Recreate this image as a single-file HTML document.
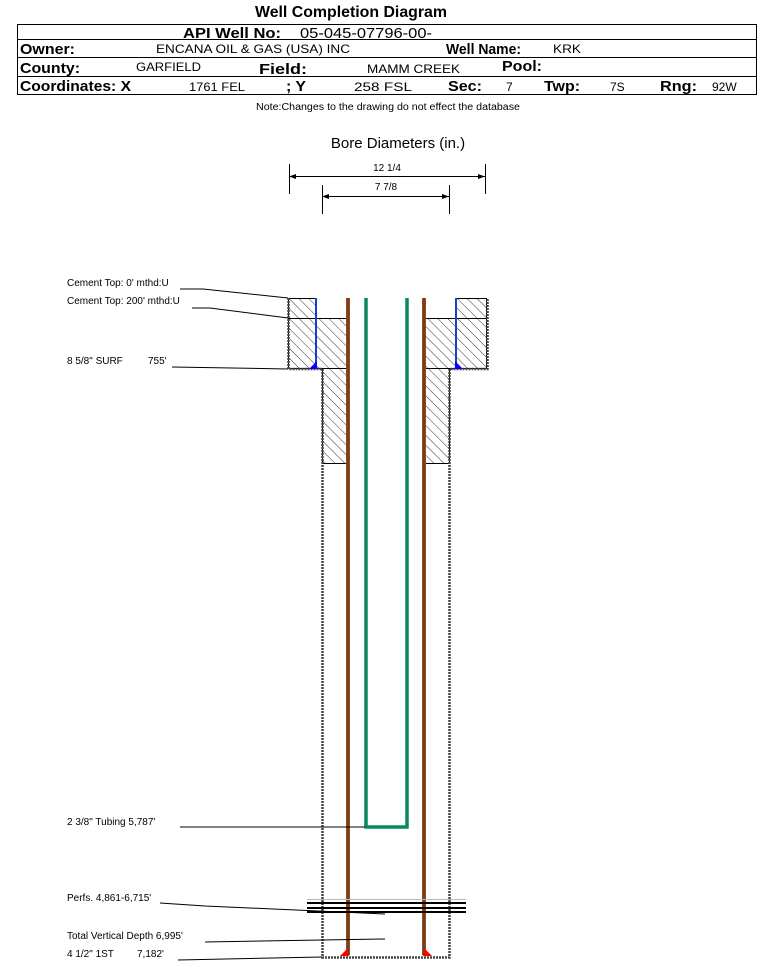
<!DOCTYPE html>
<html><head><meta charset="utf-8"><style>
body{margin:0;background:#fff;}
svg{display:block;font-family:"Liberation Sans",Arial,sans-serif;}
</style></head><body>
<svg width="759" height="962" viewBox="0 0 759 962" xmlns="http://www.w3.org/2000/svg">
<defs>
<pattern id="h" patternUnits="userSpaceOnUse" width="7" height="7" patternTransform="rotate(-45)">
<rect width="7" height="7" fill="#fff"/><line x1="0" y1="0" x2="0" y2="7" stroke="#000" stroke-width="0.8"/>
</pattern>
</defs>
<text x="255" y="17" font-size="16" font-weight="bold" textLength="192" lengthAdjust="spacingAndGlyphs">Well Completion Diagram</text>
<g stroke="#000" stroke-width="1" fill="none">
<rect x="17.5" y="24.5" width="739" height="70"/>
<line x1="17" y1="39.5" x2="757" y2="39.5"/>
<line x1="17" y1="57.5" x2="757" y2="57.5"/>
<line x1="17" y1="76.5" x2="757" y2="76.5"/>
</g>
<g font-size="15" font-weight="bold">
<text x="183" y="38" textLength="98" lengthAdjust="spacingAndGlyphs">API Well No:</text>
<text x="20" y="54" textLength="55" lengthAdjust="spacingAndGlyphs">Owner:</text>
<text x="446" y="54" textLength="75" lengthAdjust="spacingAndGlyphs">Well Name:</text>
<text x="20" y="73" textLength="60" lengthAdjust="spacingAndGlyphs">County:</text>
<text x="259" y="74" textLength="48" lengthAdjust="spacingAndGlyphs">Field:</text>
<text x="502" y="71" textLength="40" lengthAdjust="spacingAndGlyphs">Pool:</text>
<text x="20" y="91" textLength="111" lengthAdjust="spacingAndGlyphs">Coordinates: X</text>
<text x="286" y="91" textLength="20" lengthAdjust="spacingAndGlyphs">; Y</text>
<text x="448" y="91" textLength="34" lengthAdjust="spacingAndGlyphs">Sec:</text>
<text x="544" y="91" textLength="36" lengthAdjust="spacingAndGlyphs">Twp:</text>
<text x="660" y="91" textLength="37" lengthAdjust="spacingAndGlyphs">Rng:</text>
</g>
<g font-size="12">
<text x="300" y="38" font-size="15" textLength="132" lengthAdjust="spacingAndGlyphs">05-045-07796-00-</text>
<text x="156" y="53" textLength="194" lengthAdjust="spacingAndGlyphs">ENCANA OIL &amp; GAS (USA) INC</text>
<text x="553" y="53" textLength="28" lengthAdjust="spacingAndGlyphs">KRK</text>
<text x="136" y="71" textLength="65" lengthAdjust="spacingAndGlyphs">GARFIELD</text>
<text x="367" y="73" textLength="93" lengthAdjust="spacingAndGlyphs">MAMM CREEK</text>
<text x="189" y="91" textLength="56" lengthAdjust="spacingAndGlyphs">1761 FEL</text>
<text x="354" y="91" textLength="58" lengthAdjust="spacingAndGlyphs">258 FSL</text>
<text x="506" y="91">7</text>
<text x="610" y="91">7S</text>
<text x="712" y="91">92W</text>
</g>
<text x="256" y="110" font-size="10" textLength="264" lengthAdjust="spacingAndGlyphs">Note:Changes to the drawing do not effect the database</text>
<text x="398" y="148" font-size="15" text-anchor="middle">Bore Diameters (in.)</text>
<g stroke="#000" stroke-width="1">
<line x1="289.5" y1="164" x2="289.5" y2="194"/><line x1="485.5" y1="164" x2="485.5" y2="194"/>
<line x1="289" y1="176.5" x2="485" y2="176.5"/>
<line x1="322.5" y1="185" x2="322.5" y2="214"/><line x1="449.5" y1="185" x2="449.5" y2="214"/>
<line x1="322" y1="196.5" x2="449" y2="196.5"/>
</g>
<g fill="#000"><polygon points="289,176.5 296,174 296,179"/><polygon points="485,176.5 478,174 478,179"/>
<polygon points="322,196.5 329,194 329,199"/><polygon points="449,196.5 442,194 442,199"/></g>
<text x="387" y="171" font-size="10" text-anchor="middle">12 1/4</text>
<text x="386" y="190" font-size="10" text-anchor="middle">7 7/8</text>
<g fill="url(#h)" stroke="#000" stroke-width="1">
<rect x="288.5" y="298.5" width="28" height="70"/>
<rect x="316.5" y="318.5" width="31" height="50"/>
<rect x="322.5" y="368.5" width="25" height="95"/>
<rect x="456.5" y="298.5" width="30" height="70"/>
<rect x="424.5" y="318.5" width="32" height="50"/>
<rect x="424.5" y="368.5" width="25" height="95"/>
</g>
<line x1="288" y1="318.5" x2="316" y2="318.5" stroke="#000"/>
<line x1="456" y1="318.5" x2="487" y2="318.5" stroke="#000"/>
<path d="M288.5,298 V369 H322.5 V957.5 H449.5 V369 H487.5 V298" fill="none" stroke="#444" stroke-width="2.5" stroke-dasharray="2,1"/>
<line x1="316" y1="298" x2="316" y2="369" stroke="#1a3cd0" stroke-width="2"/>
<line x1="456" y1="298" x2="456" y2="369" stroke="#1a3cd0" stroke-width="2"/>
<polygon points="309,369 317,369 317,361" fill="#0000ff"/>
<polygon points="455,369 463,369 455,361" fill="#0000ff"/>
<g stroke-width="4"><line x1="348" y1="298" x2="348" y2="955" stroke="#0a8a3a"/><line x1="424" y1="298" x2="424" y2="955" stroke="#0a8a3a"/></g>
<g stroke-width="2"><line x1="348" y1="298" x2="348" y2="955" stroke="#ff0000"/><line x1="424" y1="298" x2="424" y2="955" stroke="#ff0000"/></g>
<polygon points="340,956 349,956 349,947" fill="#ff0000"/>
<polygon points="423,956 432,956 423,947" fill="#ff0000"/>
<path d="M366,298 V827 H407 V298" fill="none" stroke="#0a8a5a" stroke-width="3.5"/>
<g stroke="#000" stroke-width="2"><line x1="307" y1="903" x2="466" y2="903"/><line x1="307" y1="908" x2="466" y2="908"/><line x1="307" y1="912" x2="466" y2="912"/></g>
<line x1="307" y1="899.5" x2="466" y2="899.5" stroke="#bbb"/>
<g font-size="10">
<text x="67" y="286">Cement Top: 0' mthd:U</text>
<text x="67" y="304">Cement Top: 200' mthd:U</text>
<text x="67" y="364">8 5/8" SURF</text><text x="148" y="364">755'</text>
<text x="67" y="825">2 3/8" Tubing 5,787'</text>
<text x="67" y="901">Perfs. 4,861-6,715'</text>
<text x="67" y="939">Total Vertical Depth 6,995'</text>
<text x="67" y="957">4 1/2" 1ST</text><text x="137" y="957">7,182'</text>
</g>
<g stroke="#000" stroke-width="1" fill="none">
<polyline points="180,289 203,289 288,298"/>
<polyline points="192,308 210,308 288,318"/>
<polyline points="172,367 288,369"/>
<polyline points="180,827 365,827"/>
<polyline points="160,903 205,906 385,914"/>
<polyline points="205,942 385,939"/>
<polyline points="178,960 322,957"/>
</g>
</svg>
</body></html>
